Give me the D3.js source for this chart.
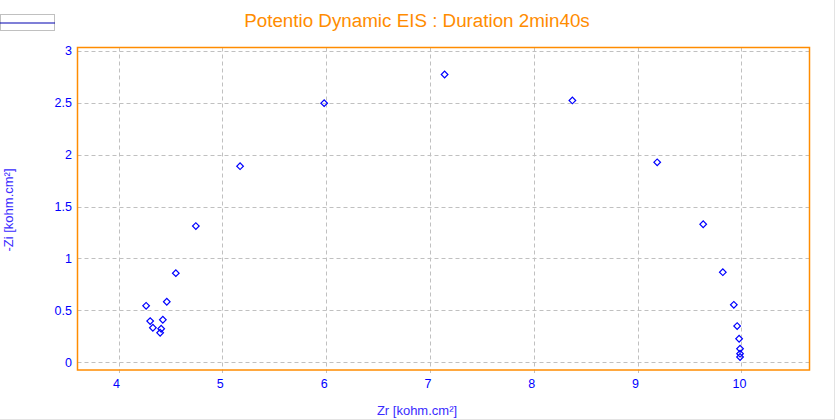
<!DOCTYPE html>
<html>
<head>
<meta charset="utf-8">
<script src="https://cdn.jsdelivr.net/npm/d3@7"></script>
<style>
  html, body { margin: 0; padding: 0; background: #fff; }
  svg { display: block; }
</style>
</head>
<body>
<svg id="chart" width="835" height="420"></svg>
<script>
// Data (kohm.cm²)
const zr = [4.266, 4.305, 4.331, 4.401, 4.411, 4.427, 4.465, 4.552, 4.745, 5.171, 5.981, 7.141, 8.372, 9.189, 9.632, 9.821, 9.927, 9.959, 9.978, 9.987, 9.987, 9.987];
const zi = [0.544, 0.397, 0.333, 0.285, 0.323, 0.410, 0.583, 0.859, 1.312, 1.889, 2.496, 2.772, 2.522, 1.926, 1.330, 0.868, 0.554, 0.349, 0.227, 0.131, 0.083, 0.051];
const xTicks = [4, 5, 6, 7, 8, 9, 10];
const yTicks = [0, 0.5, 1, 1.5, 2, 2.5, 3];
const xDomain = [3.605, 10.656];
const yDomain = [-0.074, 3.032];
const titleText = "Potentio Dynamic EIS : Duration 2min40s";
const xLabel = "Zr [kohm.cm²]";
const yLabel = "-Zi [kohm.cm²]";

const svg = d3.select("#chart");
const W = 835, H = 420;
const plot = { left: 77.5, right: 809.5, top: 47.5, bottom: 370 };
const orange = "#ff8c00";
const blue = "#0000ff";
const font = "'Liberation Sans', Arial, sans-serif";

// page border (right & bottom light gray)
svg.append("line").attr("x1", W - 0.5).attr("x2", W - 0.5).attr("y1", 0).attr("y2", H)
  .attr("stroke", "#e3e3e3").attr("stroke-width", 1);
svg.append("line").attr("x1", 0).attr("x2", W).attr("y1", H - 0.5).attr("y2", H - 0.5)
  .attr("stroke", "#e3e3e3").attr("stroke-width", 1);

const x = d3.scaleLinear().domain(xDomain).range([plot.left, plot.right]);
const y = d3.scaleLinear().domain(yDomain).range([plot.bottom, plot.top]);

// grid
const grid = svg.append("g");
grid.selectAll("line.vx").data(xTicks).join("line")
  .attr("x1", d => Math.round(x(d)) + 0.5).attr("x2", d => Math.round(x(d)) + 0.5)
  .attr("y1", plot.top).attr("y2", plot.bottom + 3)
  .attr("stroke", "#c0c0c0").attr("stroke-dasharray", "4,3");
grid.selectAll("line.hy").data(yTicks).join("line")
  .attr("y1", d => Math.round(y(d)) + 0.5).attr("y2", d => Math.round(y(d)) + 0.5)
  .attr("x1", plot.left).attr("x2", plot.right)
  .attr("stroke", "#c0c0c0").attr("stroke-dasharray", "4,3");

// plot border
svg.append("rect")
  .attr("x", plot.left).attr("y", plot.top)
  .attr("width", plot.right - plot.left).attr("height", plot.bottom - plot.top)
  .attr("fill", "none").attr("stroke", orange).attr("stroke-width", 1.5);

// tick labels
svg.append("g").selectAll("text").data(xTicks).join("text")
  .attr("x", d => x(d) - 2).attr("y", 388)
  .attr("text-anchor", "middle")
  .attr("font-family", font).attr("font-size", 12.5).attr("fill", blue)
  .text(d => d);
svg.append("g").selectAll("text").data(yTicks).join("text")
  .attr("x", 72).attr("y", d => y(d) + 4.5)
  .attr("text-anchor", "end")
  .attr("font-family", font).attr("font-size", 12.5).attr("fill", blue)
  .text(d => d);

// axis titles
svg.append("text")
  .attr("x", 417).attr("y", 415)
  .attr("text-anchor", "middle")
  .attr("font-family", font).attr("font-size", 13).attr("fill", "#3a2cff")
  .text(xLabel);
svg.append("text")
  .attr("transform", "translate(13,210) rotate(-90)")
  .attr("text-anchor", "middle")
  .attr("font-family", font).attr("font-size", 13).attr("fill", "#3a2cff")
  .text(yLabel);

// title
svg.append("text")
  .attr("x", 417).attr("y", 27)
  .attr("text-anchor", "middle")
  .attr("font-family", font).attr("font-size", 18.8).attr("fill", orange)
  .text(titleText);

// legend box
svg.append("rect").attr("x", 0.5).attr("y", 14.5).attr("width", 54).attr("height", 16)
  .attr("fill", "#fff").attr("stroke", "#c0c0c0");
svg.append("line").attr("x1", 0).attr("x2", 55).attr("y1", 23).attr("y2", 23)
  .attr("stroke", "#0000b0").attr("stroke-width", 1.2);

// points
const pts = zr.map((v, i) => ({ x: v, y: zi[i] }));
const sym = d3.symbol().type(d3.symbolSquare).size(22);
svg.append("g").selectAll("path").data(pts).join("path")
  .attr("d", sym)
  .attr("transform", d => `translate(${x(d.x)},${y(d.y)}) rotate(45)`)
  .attr("fill", "none").attr("stroke", blue).attr("stroke-width", 1.2);
</script>
</body>
</html>
